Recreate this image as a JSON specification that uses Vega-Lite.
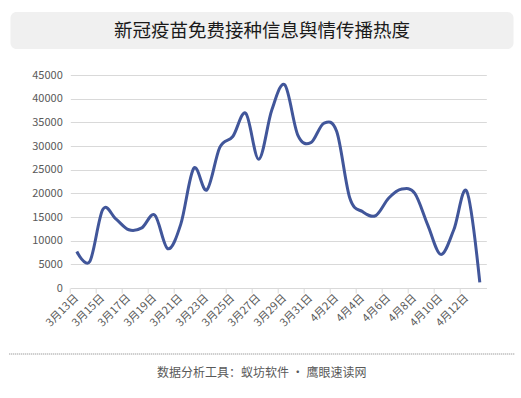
{
  "$schema": "https://vega.github.io/schema/vega-lite/v6.json",
  "padding": {"left": 8, "top": 12, "right": 8, "bottom": 0},
  "background": "white",
  "spacing": 20,
  "center": true,
  "config": {"font": "Noto Sans CJK SC", "view": {"stroke": null}},
  "vconcat": [
    {
      "width": 503,
      "height": 37,
      "view": {"fill": "#f0f0f0", "stroke": null, "cornerRadius": 6},
      "data": {"values": [{"title": "新冠疫苗免费接种信息舆情传播热度"}]},
      "mark": {"type": "text", "fontSize": 18.5, "color": "#1a1a1a", "baseline": "middle", "align": "center"},
      "encoding": {"text": {"field": "title"}}
    },
    {
      "width": 448.6,
      "height": 213,
      "data": {"values": [
        {"date": "3月13日", "value": 7700},
        {"date": "3月14日", "value": 5600},
        {"date": "3月15日", "value": 16600},
        {"date": "3月16日", "value": 14600},
        {"date": "3月17日", "value": 12300},
        {"date": "3月18日", "value": 12700},
        {"date": "3月19日", "value": 15400},
        {"date": "3月20日", "value": 8300},
        {"date": "3月21日", "value": 13500},
        {"date": "3月22日", "value": 25300},
        {"date": "3月23日", "value": 20700},
        {"date": "3月24日", "value": 29700},
        {"date": "3月25日", "value": 32000},
        {"date": "3月26日", "value": 36900},
        {"date": "3月27日", "value": 27200},
        {"date": "3月28日", "value": 37600},
        {"date": "3月29日", "value": 42900},
        {"date": "3月30日", "value": 32300},
        {"date": "3月31日", "value": 30700},
        {"date": "4月1日", "value": 34800},
        {"date": "4月2日", "value": 33000},
        {"date": "4月3日", "value": 19000},
        {"date": "4月4日", "value": 16100},
        {"date": "4月5日", "value": 15300},
        {"date": "4月6日", "value": 19000},
        {"date": "4月7日", "value": 20900},
        {"date": "4月8日", "value": 20000},
        {"date": "4月9日", "value": 13300},
        {"date": "4月10日", "value": 7100},
        {"date": "4月11日", "value": 12300},
        {"date": "4月12日", "value": 20400},
        {"date": "4月13日", "value": 1200}
      ]},
      "mark": {"type": "line", "interpolate": "cardinal", "color": "#41569a", "strokeWidth": 3},
      "encoding": {
        "x": {
          "field": "date", "type": "ordinal", "sort": null, "bandPosition": 0.5,
          "scale": {"type": "band", "range": [32.6, 448.6], "paddingInner": 0, "paddingOuter": 0},
          "axis": {
            "title": null,
            "values": ["3月13日","3月15日","3月17日","3月19日","3月21日","3月23日","3月25日","3月27日","3月29日","3月31日","4月2日","4月4日","4月6日","4月8日","4月10日","4月12日"],
            "bandPosition": 0, "grid": false,
            "labelAngle": -45, "labelAlign": "right", "labelBaseline": "middle",
            "labelFontSize": 11, "labelColor": "#595959", "labelPadding": 3,
            "domainColor": "#d9d9d9", "tickColor": "#d9d9d9", "tickSize": 5
          }
        },
        "y": {
          "field": "value", "type": "quantitative",
          "scale": {"domain": [0, 45000], "nice": false},
          "axis": {
            "title": null, "values": [0,5000,10000,15000,20000,25000,30000,35000,40000,45000],
            "format": "d", "domain": false, "ticks": false, "offset": -32.6,
            "gridColor": "#d9d9d9", "labelColor": "#595959", "labelFontSize": 11, "labelPadding": 8
          }
        }
      }
    },
    {
      "width": 505,
      "height": 38,
      "data": {"values": [{"source": "数据分析工具：蚁坊软件 · 鹰眼速读网"}]},
      "layer": [
        {
          "mark": {"type": "rule", "color": "#7f7f7f", "strokeDash": [1, 1], "strokeWidth": 1, "yOffset": 5},
          "encoding": {"y": {"datum": 1, "type": "quantitative", "scale": {"domain": [0, 1]}, "axis": null}}
        },
        {
          "mark": {"type": "text", "fontSize": 12, "color": "#595959", "yOffset": 5},
          "encoding": {"text": {"field": "source"}}
        }
      ]
    }
  ]
}
